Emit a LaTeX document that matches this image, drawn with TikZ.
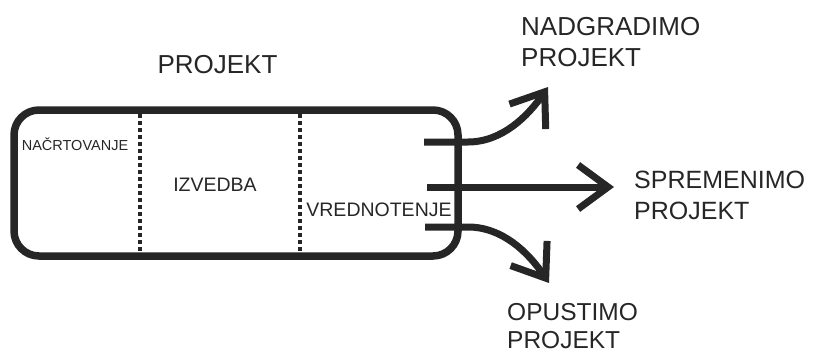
\documentclass[tikz,border=0pt]{standalone}
\usepackage{fontspec}
\setmainfont{Liberation Sans}
\usetikzlibrary{arrows.meta}
\definecolor{ink}{RGB}{38,38,38}
\begin{document}
\begin{tikzpicture}[x=1pt,y=-1pt,
  frame/.style={draw=ink,line width=7.5pt,rounded corners=25pt,inner sep=0pt,
    minimum width=444pt,minimum height=146pt},
  sep/.style={draw=ink,line width=4.5pt,dash pattern=on 4pt off 3pt},
  arr/.style={draw=ink,line width=7pt,
    -{Straight Barb[length=30pt,width=44pt,line cap=butt,line join=miter]}},
  big/.style={text=ink,anchor=base,font=\fontsize{26}{31}\selectfont,align=left},
  lbl/.style={text=ink,anchor=base},
  outlbl/.style={text=ink,anchor=base west,align=left,inner sep=0pt}]
\useasboundingbox (0,0) rectangle (816,354);
% project box
\node[frame] (proj) at (236,183) {};
\coordinate (d1a) at (140,114); \coordinate (d1b) at (140,253);
\coordinate (d2a) at (300,114); \coordinate (d2b) at (300,253);
\draw[sep] (d1a) -- (d1b);
\draw[sep] (d2a) -- (d2b);
% labels
\node[big] (title) at (217.5,73) {PROJEKT};
\node[lbl,font=\fontsize{14.5}{17}\selectfont] (plan) at (75,150) {NAČRTOVANJE};
\node[lbl,font=\fontsize{19.5}{23}\selectfont] (izv) at (215,191) {IZVEDBA};
\node[lbl,font=\fontsize{19.5}{23}\selectfont] (vred) at (379,216) {VREDNOTENJE};
% arrows
\coordinate (s1) at (424,142);
\coordinate (s2) at (427,187);
\coordinate (s3) at (425,227);
\coordinate (t1) at (548,87);
\coordinate (t2) at (614,187);
\coordinate (t3) at (549,283);
\draw[arr] (s1) -- (468,142) .. controls (502,142) and (528,116) .. (t1);
\draw[arr] (s2) -- (t2);
\draw[arr] (s3) -- (468,227) .. controls (502,227) and (528,252) .. (t3);
% outcome labels (anchor on last line's baseline)
\node[outlbl,font=\fontsize{26}{31}\selectfont] (nad) at (521,66) {NADGRADIMO\\PROJEKT};
\node[outlbl,font=\fontsize{25}{31}\selectfont] (spr) at (634,219) {SPREMENIMO\\PROJEKT};
\node[outlbl,font=\fontsize{24.5}{28}\selectfont] (opu) at (507,348) {OPUSTIMO\\PROJEKT};
\end{tikzpicture}
\end{document}
